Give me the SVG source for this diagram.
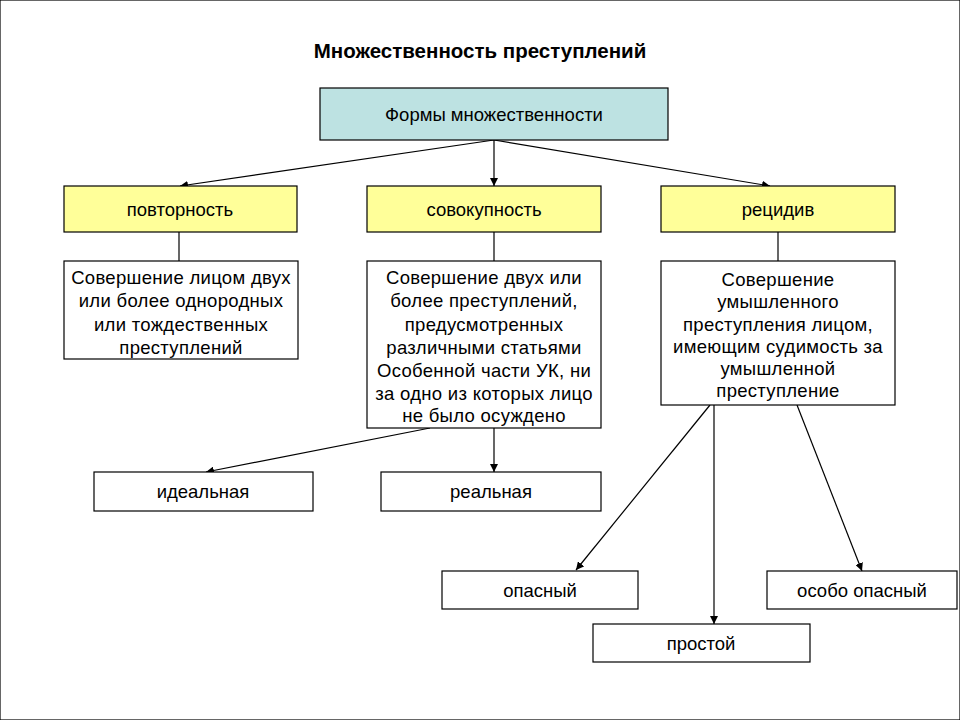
<svg xmlns="http://www.w3.org/2000/svg" width="960" height="720" viewBox="0 0 960 720">
<style>
text{font-family:"Liberation Sans",Arial,sans-serif;font-size:18.5px;fill:#000;text-anchor:middle}
.t{font-weight:bold;font-size:20.5px}
.d{font-size:18.5px;letter-spacing:0.3px}
rect{stroke:#000;stroke-width:1.2}
.b{fill:#fff}
.y{fill:#ffff99}
.c{fill:#bde2e2}
.l{stroke:#000;stroke-width:1.2;fill:none}
.a{marker-end:url(#ar)}
</style>
<defs>
<marker id="ar" viewBox="0 0 10 10" refX="10" refY="5" markerWidth="8" markerHeight="8" markerUnits="userSpaceOnUse" orient="auto">
<path d="M0,0 L10,5 L0,10 z" fill="#000"/>
</marker>
</defs>
<rect width="960" height="720" fill="#fff" stroke="none"/>
<text class="t" x="480" y="58">Множественность преступлений</text>

<g id="connectors">
<line class="l a" x1="494" y1="140" x2="180" y2="186"/>
<line class="l a" x1="494" y1="140" x2="494" y2="186"/>
<line class="l a" x1="494" y1="140" x2="770" y2="186"/>
<line class="l" x1="179" y1="232" x2="179" y2="261"/>
<line class="l" x1="494" y1="232" x2="494" y2="261"/>
<line class="l" x1="778" y1="232" x2="778" y2="261"/>
<line class="l a" x1="430" y1="428" x2="206" y2="472"/>
<line class="l a" x1="494" y1="428" x2="494" y2="472"/>
<line class="l a" x1="710" y1="405" x2="576" y2="570"/>
<line class="l a" x1="714" y1="405" x2="714" y2="624"/>
<line class="l a" x1="797" y1="405" x2="862" y2="571"/>
</g>

<g id="forms"><rect class="c" x="320" y="88" width="348" height="52"/><text x="494" y="121">Формы множественности</text></g>

<g id="povtornost"><rect class="y" x="64" y="186" width="233" height="46"/><text x="180" y="216">повторность</text></g>
<g id="sovokupnost"><rect class="y" x="367" y="186" width="234" height="46"/><text x="484" y="216">совокупность</text></g>
<g id="recidiv"><rect class="y" x="661" y="186" width="234" height="46"/><text x="778" y="216">рецидив</text></g>

<g id="povt-desc" class="d"><rect class="b" x="64" y="261" width="234" height="98"/>
<text class="d" x="181" y="284">Совершение лицом двух</text>
<text class="d" x="181" y="307">или более однородных</text>
<text class="d" x="181" y="331">или тождественных</text>
<text class="d" x="181" y="354">преступлений</text></g>

<g id="sovok-desc"><rect class="b" x="367" y="261" width="234" height="167"/>
<text class="d" x="484" y="284">Совершение двух или</text>
<text class="d" x="484" y="307">более преступлений,</text>
<text class="d" x="484" y="331">предусмотренных</text>
<text class="d" x="484" y="354">различными статьями</text>
<text class="d" x="484" y="377">Особенной части УК, ни</text>
<text class="d" x="484" y="400">за одно из которых лицо</text>
<text class="d" x="484" y="422">не было осуждено</text></g>

<g id="recid-desc"><rect class="b" x="661" y="261" width="234" height="144"/>
<text class="d" x="778" y="286">Совершение</text>
<text class="d" x="778" y="308">умышленного</text>
<text class="d" x="778" y="331">преступления лицом,</text>
<text class="d" x="778" y="353">имеющим судимость за</text>
<text class="d" x="778" y="375">умышленной</text>
<text class="d" x="778" y="397">преступление</text></g>

<g id="idealnaya"><rect class="b" x="94" y="472" width="219" height="39"/><text x="203" y="498">идеальная</text></g>
<g id="realnaya"><rect class="b" x="381" y="472" width="220" height="39"/><text x="491" y="498">реальная</text></g>
<g id="opasny"><rect class="b" x="442" y="571" width="196" height="38"/><text x="540" y="597">опасный</text></g>
<g id="osobo"><rect class="b" x="767" y="571" width="190" height="38"/><text x="862" y="597">особо опасный</text></g>
<g id="prostoy"><rect class="b" x="593" y="624" width="217" height="38"/><text x="701" y="650">простой</text></g>
</svg>
